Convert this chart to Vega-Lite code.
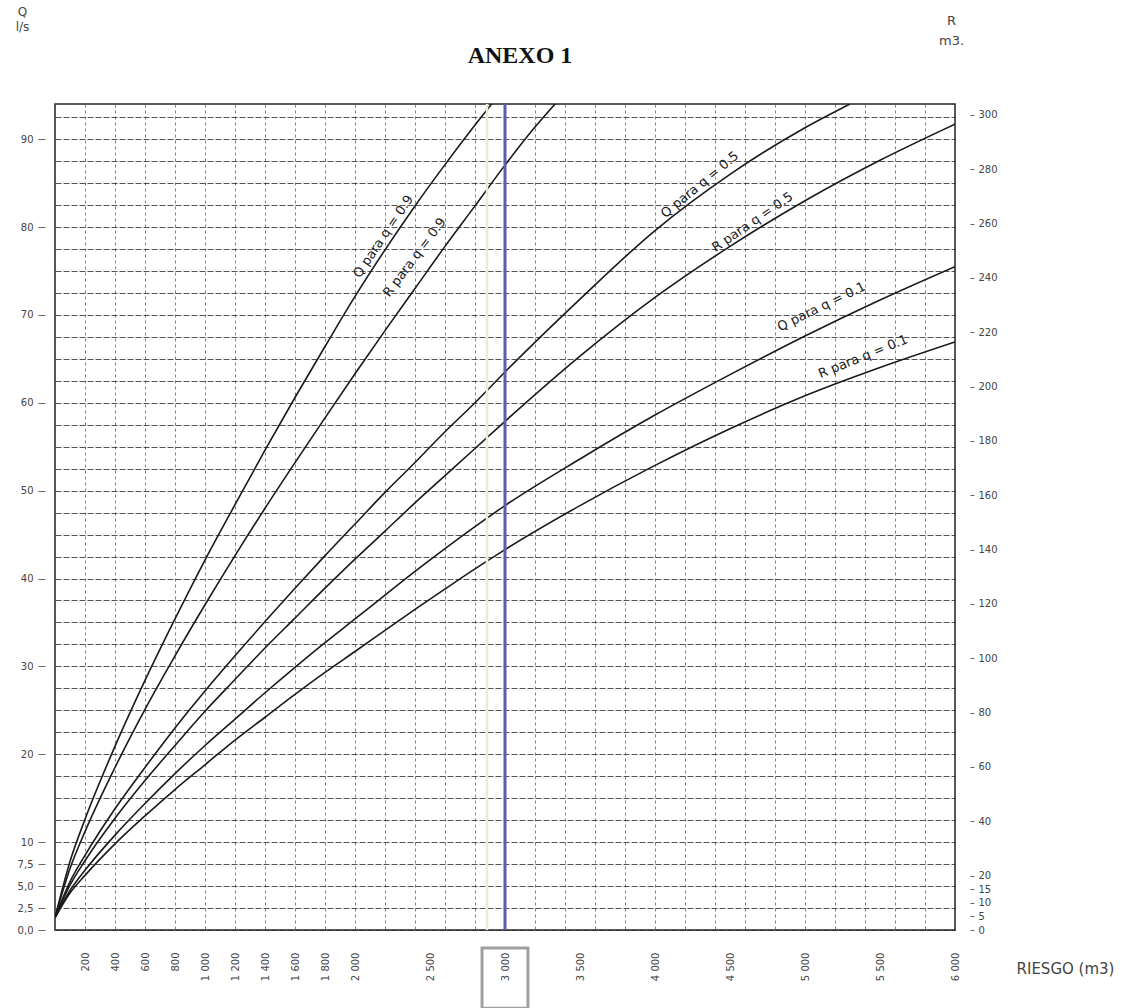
{
  "$schema": "https://vega.github.io/schema/vega-lite/v6.json",
  "width": 900,
  "height": 826,
  "autosize": "none",
  "padding": {"left": 55, "top": 104, "right": 179, "bottom": 78},
  "background": "white",
  "title": {"text": "ANEXO 1", "font": "Liberation Serif", "fontSize": 24, "fontWeight": "bold", "color": "#111", "anchor": "middle", "dx": 15, "offset": 0, "dy": 75, "baseline": "middle"},
  "config": {
    "view": {"stroke": "#222", "strokeWidth": 1.5},
    "font": "DejaVu Sans",
    "axis": {"labelOverlap": false},
    "axisX": {"labelOverlap": false}
  },
  "datasets": {
    "qcurves": [
      {"curve": "Q0.9", "x": 0, "Q": 1.4}, {"curve": "Q0.9", "x": 100, "Q": 7.8}, {"curve": "Q0.9", "x": 200, "Q": 12.6}, {"curve": "Q0.9", "x": 400, "Q": 20.9}, {"curve": "Q0.9", "x": 600, "Q": 28.4}, {"curve": "Q0.9", "x": 800, "Q": 35.4}, {"curve": "Q0.9", "x": 1000, "Q": 42.1}, {"curve": "Q0.9", "x": 1200, "Q": 48.4}, {"curve": "Q0.9", "x": 1400, "Q": 54.6}, {"curve": "Q0.9", "x": 1600, "Q": 60.6}, {"curve": "Q0.9", "x": 1800, "Q": 66.4}, {"curve": "Q0.9", "x": 2000, "Q": 72.1}, {"curve": "Q0.9", "x": 2200, "Q": 77.4}, {"curve": "Q0.9", "x": 2400, "Q": 82.4}, {"curve": "Q0.9", "x": 2600, "Q": 87.1}, {"curve": "Q0.9", "x": 2800, "Q": 91.6}, {"curve": "Q0.9", "x": 2920, "Q": 94.2},
      {"curve": "Q0.5", "x": 0, "Q": 1.4}, {"curve": "Q0.5", "x": 100, "Q": 5.5}, {"curve": "Q0.5", "x": 200, "Q": 8.5}, {"curve": "Q0.5", "x": 400, "Q": 13.8}, {"curve": "Q0.5", "x": 600, "Q": 18.5}, {"curve": "Q0.5", "x": 800, "Q": 23.0}, {"curve": "Q0.5", "x": 1000, "Q": 27.2}, {"curve": "Q0.5", "x": 1200, "Q": 31.2}, {"curve": "Q0.5", "x": 1400, "Q": 35.1}, {"curve": "Q0.5", "x": 1600, "Q": 38.9}, {"curve": "Q0.5", "x": 1800, "Q": 42.6}, {"curve": "Q0.5", "x": 2000, "Q": 46.2}, {"curve": "Q0.5", "x": 2200, "Q": 49.8}, {"curve": "Q0.5", "x": 2400, "Q": 53.2}, {"curve": "Q0.5", "x": 2600, "Q": 56.7}, {"curve": "Q0.5", "x": 2800, "Q": 60.0}, {"curve": "Q0.5", "x": 3000, "Q": 63.5}, {"curve": "Q0.5", "x": 3500, "Q": 71.8}, {"curve": "Q0.5", "x": 4000, "Q": 79.6}, {"curve": "Q0.5", "x": 4500, "Q": 86.0}, {"curve": "Q0.5", "x": 5000, "Q": 91.3}, {"curve": "Q0.5", "x": 5300, "Q": 94},
      {"curve": "Q0.1", "x": 0, "Q": 1.4}, {"curve": "Q0.1", "x": 100, "Q": 4.5}, {"curve": "Q0.1", "x": 200, "Q": 6.8}, {"curve": "Q0.1", "x": 400, "Q": 10.8}, {"curve": "Q0.1", "x": 600, "Q": 14.4}, {"curve": "Q0.1", "x": 800, "Q": 17.8}, {"curve": "Q0.1", "x": 1000, "Q": 21.0}, {"curve": "Q0.1", "x": 1200, "Q": 24.0}, {"curve": "Q0.1", "x": 1400, "Q": 27.0}, {"curve": "Q0.1", "x": 1600, "Q": 29.9}, {"curve": "Q0.1", "x": 1800, "Q": 32.7}, {"curve": "Q0.1", "x": 2000, "Q": 35.4}, {"curve": "Q0.1", "x": 2200, "Q": 38.1}, {"curve": "Q0.1", "x": 2400, "Q": 40.8}, {"curve": "Q0.1", "x": 2600, "Q": 43.4}, {"curve": "Q0.1", "x": 2800, "Q": 45.9}, {"curve": "Q0.1", "x": 3000, "Q": 48.3}, {"curve": "Q0.1", "x": 3500, "Q": 53.6}, {"curve": "Q0.1", "x": 4000, "Q": 58.6}, {"curve": "Q0.1", "x": 4500, "Q": 63.2}, {"curve": "Q0.1", "x": 5000, "Q": 67.6}, {"curve": "Q0.1", "x": 5500, "Q": 71.7}, {"curve": "Q0.1", "x": 6000, "Q": 75.5}
    ],
    "rcurves": [
      {"curve": "R0.9", "x": 0, "R": 4.5}, {"curve": "R0.9", "x": 100, "R": 22.6}, {"curve": "R0.9", "x": 200, "R": 36.2}, {"curve": "R0.9", "x": 400, "R": 59.8}, {"curve": "R0.9", "x": 600, "R": 81.2}, {"curve": "R0.9", "x": 800, "R": 100.9}, {"curve": "R0.9", "x": 1000, "R": 119.7}, {"curve": "R0.9", "x": 1200, "R": 137.8}, {"curve": "R0.9", "x": 1400, "R": 155.2}, {"curve": "R0.9", "x": 1600, "R": 172.0}, {"curve": "R0.9", "x": 1800, "R": 188.5}, {"curve": "R0.9", "x": 2000, "R": 204.7}, {"curve": "R0.9", "x": 2200, "R": 220.6}, {"curve": "R0.9", "x": 2400, "R": 236.1}, {"curve": "R0.9", "x": 2600, "R": 251.6}, {"curve": "R0.9", "x": 2800, "R": 266.5}, {"curve": "R0.9", "x": 3000, "R": 281.5}, {"curve": "R0.9", "x": 3200, "R": 295.5}, {"curve": "R0.9", "x": 3350, "R": 305},
      {"curve": "R0.5", "x": 0, "R": 4.5}, {"curve": "R0.5", "x": 100, "R": 16.5}, {"curve": "R0.5", "x": 200, "R": 25.5}, {"curve": "R0.5", "x": 400, "R": 41.1}, {"curve": "R0.5", "x": 600, "R": 55.0}, {"curve": "R0.5", "x": 800, "R": 67.9}, {"curve": "R0.5", "x": 1000, "R": 80.5}, {"curve": "R0.5", "x": 1200, "R": 92.2}, {"curve": "R0.5", "x": 1400, "R": 103.8}, {"curve": "R0.5", "x": 1600, "R": 114.8}, {"curve": "R0.5", "x": 1800, "R": 125.8}, {"curve": "R0.5", "x": 2000, "R": 136.5}, {"curve": "R0.5", "x": 2200, "R": 146.8}, {"curve": "R0.5", "x": 2400, "R": 157.2}, {"curve": "R0.5", "x": 2600, "R": 167.2}, {"curve": "R0.5", "x": 2800, "R": 177.2}, {"curve": "R0.5", "x": 3000, "R": 187.2}, {"curve": "R0.5", "x": 3500, "R": 211.2}, {"curve": "R0.5", "x": 4000, "R": 232.8}, {"curve": "R0.5", "x": 4500, "R": 251.6}, {"curve": "R0.5", "x": 5000, "R": 268.4}, {"curve": "R0.5", "x": 5500, "R": 283.3}, {"curve": "R0.5", "x": 6000, "R": 296.6},
      {"curve": "R0.1", "x": 0, "R": 4.5}, {"curve": "R0.1", "x": 100, "R": 13.6}, {"curve": "R0.1", "x": 200, "R": 20.1}, {"curve": "R0.1", "x": 400, "R": 31.7}, {"curve": "R0.1", "x": 600, "R": 42.0}, {"curve": "R0.1", "x": 800, "R": 51.7}, {"curve": "R0.1", "x": 1000, "R": 60.8}, {"curve": "R0.1", "x": 1200, "R": 69.9}, {"curve": "R0.1", "x": 1400, "R": 78.3}, {"curve": "R0.1", "x": 1600, "R": 86.7}, {"curve": "R0.1", "x": 1800, "R": 94.8}, {"curve": "R0.1", "x": 2000, "R": 102.5}, {"curve": "R0.1", "x": 2200, "R": 110.3}, {"curve": "R0.1", "x": 2400, "R": 118.0}, {"curve": "R0.1", "x": 2600, "R": 125.5}, {"curve": "R0.1", "x": 2800, "R": 132.9}, {"curve": "R0.1", "x": 3000, "R": 140.0}, {"curve": "R0.1", "x": 3500, "R": 156.2}, {"curve": "R0.1", "x": 4000, "R": 171.0}, {"curve": "R0.1", "x": 4500, "R": 184.5}, {"curve": "R0.1", "x": 5000, "R": 196.6}, {"curve": "R0.1", "x": 5500, "R": 207.0}, {"curve": "R0.1", "x": 6000, "R": 216.4}
    ],
    "labels": [
      {"text": "Q para q = 0.9", "x": 2233, "Q": 78.4, "angle": 304},
      {"text": "R para q = 0.9", "x": 2440, "Q": 76.0, "angle": 307},
      {"text": "Q para q = 0.5", "x": 4333, "Q": 84.1, "angle": 320.5},
      {"text": "R para q = 0.5", "x": 4680, "Q": 79.8, "angle": 325.5},
      {"text": "Q para q = 0.1", "x": 5133, "Q": 70.1, "angle": 334},
      {"text": "R para q = 0.1", "x": 5407, "Q": 64.4, "angle": 338}
    ]
  },
  "encoding": {
    "x": {"field": "x", "type": "quantitative", "scale": {"domain": [0, 6000], "nice": false},
      "axis": {"title": "RIESGO (m3)", "values": [0,200,400,600,800,1000,1200,1400,1600,1800,2000,2200,2400,2500,2600,2800,3000,3200,3400,3500,3600,3800,4000,4200,4400,4500,4600,4800,5000,5200,5400,5500,5600,5800,6000],
        "labelExpr": "datum.value == 0 || (datum.value > 2000 && datum.value % 500 != 0) ? '' : replace(format(datum.value, ','), ',', ' ')",
        "labelAngle": 270, "labelPadding": 22, "labelFontSize": 10, "labelColor": "#444", "labelOverlap": false, "labelBound": false, "labelFlush": false, "ticks": false, "domain": false,
        "grid": true, "gridColor": "#555", "gridDash": [3, 3], "gridWidth": 1,
        "gridOpacity": {"condition": {"test": "datum.value % 200 != 0", "value": 0}, "value": 0.75},
        "titleFontSize": 15, "titleColor": "#444", "titleFontWeight": "normal", "titleX": 1010, "titleY": 38, "titleAlign": "center", "titleBaseline": "middle"}}
  },
  "layer": [
    {
      "data": {"name": "qcurves"},
      "mark": {"type": "line", "color": "#1a1a1a", "strokeWidth": 1.6, "interpolate": "monotone", "clip": true},
      "encoding": {
        "y": {"field": "Q", "type": "quantitative", "scale": {"domain": [0, 94], "nice": false, "zero": false},
          "axis": {"title": ["Q", "l/s"], "orient": "left", "values": [0,2.5,5,7.5,10,12.5,15,17.5,20,22.5,25,27.5,30,32.5,35,37.5,40,42.5,45,47.5,50,52.5,55,57.5,60,62.5,65,67.5,70,72.5,75,77.5,80,82.5,85,87.5,90,92.5],
            "labelExpr": "datum.value < 10 ? replace(format(datum.value, '.1f'), '.', ',') : (datum.value % 10 == 0 ? format(datum.value, 'd') : '')",
            "labelOverlap": false,
            "offset": 10, "domain": false, "tickSize": 7, "tickColor": "#666",
            "tickOpacity": {"condition": {"test": "datum.value < 10 || datum.value % 10 == 0", "value": 1}, "value": 0},
            "labelPadding": 5, "labelFontSize": 10, "labelColor": "#444",
            "grid": true, "gridColor": "#2a2a2a", "gridDash": [6, 2], "gridWidth": 1.2, "gridOpacity": 0.8,
            "titleAngle": 0, "titleX": -23, "titleY": -98, "titleBaseline": "top", "titleAlign": "center", "titleFontSize": 12, "titleFontWeight": "normal", "titleColor": "#444", "titleLineHeight": 15}},
        "detail": {"field": "curve"}
      }
    },
    {
      "data": {"name": "rcurves"},
      "mark": {"type": "line", "color": "#1a1a1a", "strokeWidth": 1.6, "interpolate": "monotone", "clip": true},
      "encoding": {
        "y": {"field": "R", "type": "quantitative", "scale": {"domain": [0, 304], "nice": false, "zero": false},
          "axis": {"title": ["R", "m3."], "orient": "right", "values": [0,5,10,15,20,40,60,80,100,120,140,160,180,200,220,240,260,280,300],
            "labelOverlap": false,
            "offset": 15, "domain": false, "grid": false, "tickSize": 4, "tickColor": "#666", "labelPadding": 4, "labelFontSize": 10, "labelColor": "#444",
            "titleAngle": 0, "titleX": -19, "titleY": -90, "titleBaseline": "top", "titleAlign": "center", "titleFontSize": 13, "titleFontWeight": "normal", "titleColor": "#444", "titleLineHeight": 20}},
        "detail": {"field": "curve"}
      }
    },
    {
      "data": {"values": [{"x": 2880}]},
      "mark": {"type": "rule", "color": "#ecebd2", "strokeWidth": 2.5},
      "encoding": {}
    },
    {
      "data": {"values": [{"x": 3000}]},
      "mark": {"type": "rule", "color": "#5b5ea8", "strokeWidth": 3},
      "encoding": {}
    },
    {
      "data": {"name": "labels"},
      "mark": {"type": "text", "fontSize": 13, "color": "#1a1a1a", "align": "center", "baseline": "middle", "font": "DejaVu Sans", "dy": -8},
      "encoding": {
        "y": {"field": "Q", "type": "quantitative", "scale": {"domain": [0, 94], "nice": false, "zero": false}, "axis": null},
        "text": {"field": "text"},
        "angle": {"field": "angle", "type": "quantitative", "scale": null}
      }
    },
    {
      "data": {"values": [{"x": 2847, "x2": 3153, "y": -2.05, "y2": -8.9}]},
      "mark": {"type": "rect", "fill": null, "fillOpacity": 0, "stroke": "#a0a0a0", "strokeWidth": 3, "clip": false},
      "encoding": {
        "x2": {"field": "x2"},
        "y": {"field": "y", "type": "quantitative", "scale": {"domain": [0, 94], "nice": false, "zero": false}, "axis": null},
        "y2": {"field": "y2"}
      }
    }
  ],
  "resolve": {"scale": {"y": "independent"}}
}
